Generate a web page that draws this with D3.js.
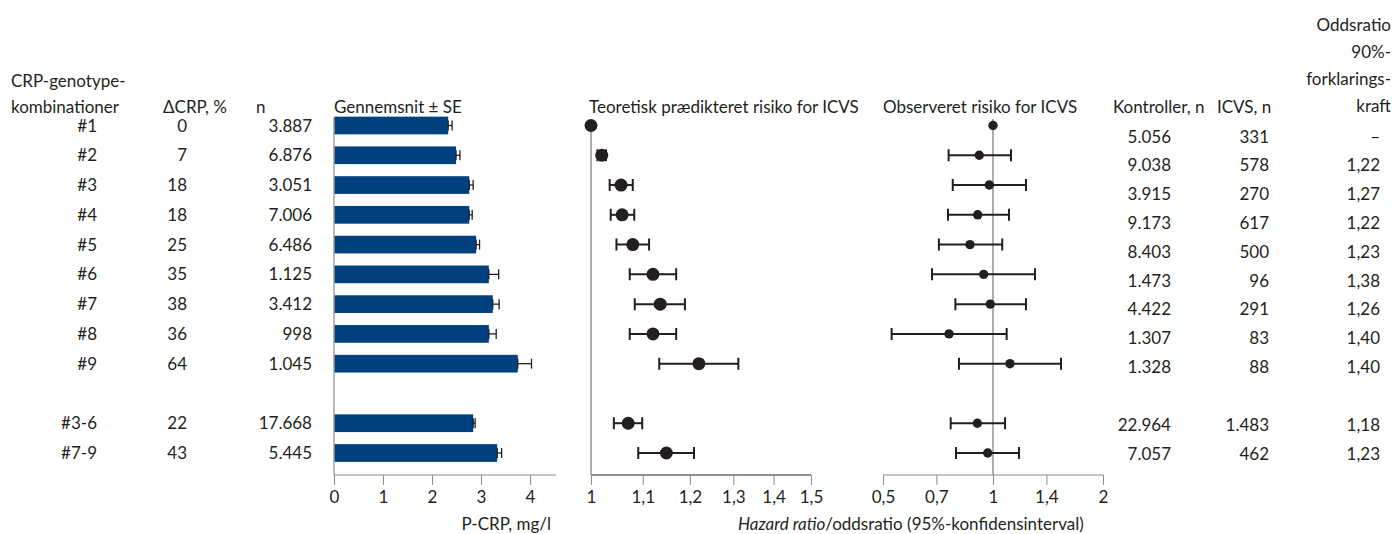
<!DOCTYPE html>
<html>
<head>
<meta charset="utf-8">
<script src="https://cdn.jsdelivr.net/npm/d3@7"></script>
<style>
  html, body { margin: 0; padding: 0; background: #fff; }
  svg text { font-family: Lato, "Liberation Sans", sans-serif; font-size: 17px; fill: #231f20; }
</style>
</head>
<body>
<svg id="chart" width="1394" height="534"></svg>
<script>
// ---------- DATA ----------
const categories = ["#1","#2","#3","#4","#5","#6","#7","#8","#9","#3-6","#7-9"];
const deltaCRP   = [0, 7, 18, 18, 25, 35, 38, 36, 64, 22, 43];
const nSubjects  = [3887, 6876, 3051, 7006, 6486, 1125, 3412, 998, 1045, 17668, 5445];
const crpMean    = [2.33, 2.49, 2.76, 2.76, 2.90, 3.16, 3.24, 3.16, 3.75, 2.84, 3.33];
const crpSE      = [0.08, 0.08, 0.08, 0.06, 0.07, 0.20, 0.13, 0.15, 0.28, 0.04, 0.09];
const predHR     = [1.000, 1.020, 1.057, 1.059, 1.080, 1.121, 1.136, 1.121, 1.220, 1.071, 1.149];
const predLo     = [null, 1.012, 1.035, 1.037, 1.048, 1.074, 1.084, 1.074, 1.134, 1.043, 1.091];
const predHi     = [null, 1.028, 1.080, 1.083, 1.113, 1.170, 1.189, 1.170, 1.312, 1.099, 1.209];
const obsOR      = [1.000, 0.917, 0.977, 0.908, 0.865, 0.943, 0.983, 0.758, 1.113, 0.906, 0.967];
const obsLo      = [null, 0.756, 0.776, 0.753, 0.711, 0.681, 0.789, 0.528, 0.807, 0.766, 0.792];
const obsHi      = [null, 1.120, 1.231, 1.106, 1.060, 1.303, 1.231, 1.090, 1.535, 1.079, 1.178];
const controls   = [5056, 9038, 3915, 9173, 8403, 1473, 4422, 1307, 1328, 22964, 7057];
const cases      = [331, 578, 270, 617, 500, 96, 291, 83, 88, 1483, 462];
const power90    = [null, 1.22, 1.27, 1.22, 1.23, 1.38, 1.26, 1.40, 1.40, 1.18, 1.23];

const crpTicks  = [0, 1, 2, 3, 4];
const predTicks = [1, 1.1, 1.2, 1.3, 1.4, 1.5];
const obsTicks  = [0.5, 0.7, 1, 1.4, 2];

// ---------- SETUP ----------
const da = d3.formatLocale({decimal: ",", thousands: ".", grouping: [3], currency: ["", " kr"]});
const fmtInt = da.format(",d");
const fmtDec = da.format(".2f");
const fmtTick = v => da.format("~g")(v);

const rows = categories.map((c, i) => ({
  cat: c, d: deltaCRP[i], n: nSubjects[i], mean: crpMean[i], se: crpSE[i],
  ph: predHR[i], pl: predLo[i], pu: predHi[i],
  oh: obsOR[i], ol: obsLo[i], ou: obsHi[i],
  ctrl: controls[i], cases: cases[i], pw: power90[i]
}));

const rowDomain = categories.slice(0, 9).concat(["gap"], categories.slice(9));
const yMark  = d3.scalePoint().domain(rowDomain).range([125.5, 453]);
const yRight = d3.scalePoint().domain(rowDomain).range([136.5, 453.5]);

const xBar  = d3.scaleLinear().domain([0, 4.53]).range([334, 556]);
const xPred = d3.scaleLog().domain([1, 1.5]).range([591, 811]);
const xObs  = d3.scaleLog().domain([0.5, 2]).range([883, 1103]);

const svg = d3.select("#chart");
const ink = "#231f20", grey = "#8c8c8c", blue = "#00407f";
const axisY = 475;

// ---------- HEADERS ----------
function hdr(x, y, t, anchor) {
  svg.append("text").attr("x", x).attr("y", y).attr("text-anchor", anchor || "start").text(t);
}
hdr(11, 87, "CRP-genotype-");
hdr(11, 113, "kombinationer");
hdr(163, 113, "\u0394CRP, %");
hdr(256, 113, "n");
hdr(334, 113, "Gennemsnit \u00b1 SE");
hdr(589, 113, "Teoretisk prædikteret risiko for ICVS");
hdr(883, 113, "Observeret risiko for ICVS");
hdr(1113, 113, "Kontroller, n");
hdr(1217, 113, "ICVS, n");
hdr(1391, 31, "Oddsratio", "end");
hdr(1391, 58, "90%-", "end");
hdr(1391, 85, "forklarings-", "end");
hdr(1391, 112, "kraft", "end");

// ---------- TABLE COLUMNS ----------
function col(x, acc, yScale) {
  svg.append("g").selectAll("text").data(rows).join("text")
    .attr("x", x).attr("y", d => yScale(d.cat) + 6)
    .attr("text-anchor", "end").text(acc);
}
col(97, d => d.cat, yMark);
col(187, d => d.d, yMark);
col(312, d => fmtInt(d.n), yMark);
col(1171, d => fmtInt(d.ctrl), yRight);
col(1269, d => fmtInt(d.cases), yRight);
col(1380, d => d.pw == null ? "\u2013" : fmtDec(d.pw), yRight);

// ---------- BAR PANEL ----------
const gBar = svg.append("g");
gBar.append("g").attr("transform", `translate(0,${axisY})`)
  .call(d3.axisBottom(xBar).tickValues(crpTicks).tickFormat(fmtTick).tickSize(10).tickPadding(6))
  .call(g => g.select(".domain").attr("stroke", grey).attr("d", `M${xBar.range()[0]},0H${xBar.range()[1]}`))
  .call(g => g.selectAll(".tick line").attr("stroke", grey))
  .call(g => g.selectAll(".tick text").attr("font-size", null).attr("font-family", null).attr("fill", ink));
gBar.append("line").attr("x1", xBar(0)).attr("x2", xBar(0)).attr("y1", 117).attr("y2", axisY).attr("stroke", grey).attr("stroke-width", 1.2);
const bh = 17.7;
gBar.selectAll("line.se").data(rows).join("line").attr("class", "se")
  .attr("x1", d => xBar(d.mean - d.se)).attr("x2", d => xBar(d.mean + d.se))
  .attr("y1", d => yMark(d.cat)).attr("y2", d => yMark(d.cat)).attr("stroke", ink).attr("stroke-width", 1.3);
gBar.selectAll("line.cap").data(rows).join("line").attr("class", "cap")
  .attr("x1", d => xBar(d.mean + d.se)).attr("x2", d => xBar(d.mean + d.se))
  .attr("y1", d => yMark(d.cat) - 5).attr("y2", d => yMark(d.cat) + 5).attr("stroke", ink).attr("stroke-width", 1.3);
gBar.selectAll("rect").data(rows).join("rect")
  .attr("x", xBar(0) + 0.6).attr("y", d => yMark(d.cat) - bh / 2)
  .attr("width", d => xBar(d.mean) - xBar(0) - 0.6).attr("height", bh).attr("fill", blue);
gBar.selectAll("line.cap0").data(rows).join("line").attr("class", "cap0")
  .attr("x1", d => xBar(d.mean)).attr("x2", d => xBar(d.mean))
  .attr("y1", d => yMark(d.cat) - 5).attr("y2", d => yMark(d.cat) + 5).attr("stroke", ink).attr("stroke-width", 1.3);
svg.append("text").attr("x", 551).attr("y", 530).attr("text-anchor", "end").text("P-CRP, mg/l");

// ---------- FOREST PANELS ----------
function forest(x, accV, accL, accU, ticks, r, lineColor, refY1) {
  const g = svg.append("g");
  g.append("g").attr("transform", `translate(0,${axisY})`)
    .call(d3.axisBottom(x).tickValues(ticks).tickFormat(fmtTick).tickSize(10).tickPadding(6))
    .call(g2 => g2.select(".domain").attr("stroke", lineColor).attr("stroke-width", 1.2).attr("d", `M${x.range()[0]},0H${x.range()[1]}`))
    .call(g2 => g2.selectAll(".tick line").attr("stroke", grey))
    .call(g2 => g2.selectAll(".tick text").attr("font-size", null).attr("font-family", null).attr("fill", ink));
  g.append("line").attr("x1", x(1)).attr("x2", x(1)).attr("y1", refY1).attr("y2", axisY).attr("stroke", grey).attr("stroke-width", 1.4);
  const ci = rows.filter(d => accL(d) != null);
  g.selectAll("line.ci").data(ci).join("line").attr("class", "ci")
    .attr("x1", d => x(accL(d))).attr("x2", d => x(accU(d)))
    .attr("y1", d => yMark(d.cat)).attr("y2", d => yMark(d.cat)).attr("stroke", ink).attr("stroke-width", 2);
  g.selectAll("path.cap").data(ci).join("path").attr("class", "cap")
    .attr("d", d => `M${x(accL(d))},${yMark(d.cat) - 6}v12M${x(accU(d))},${yMark(d.cat) - 6}v12`)
    .attr("stroke", ink).attr("stroke-width", 2).attr("fill", "none");
  g.selectAll("circle").data(rows).join("circle")
    .attr("cx", d => x(accV(d))).attr("cy", d => yMark(d.cat)).attr("r", r).attr("fill", ink);
}
forest(xPred, d => d.ph, d => d.pl, d => d.pu, predTicks, 6.5, ink, 125.5);
forest(xObs, d => d.oh, d => d.ol, d => d.ou, obsTicks, 4.7, grey, 119);

const lab = svg.append("text").attr("x", 738).attr("y", 530);
lab.append("tspan").attr("font-style", "italic").text("Hazard ratio");
lab.append("tspan").text("/oddsratio (95%-konfidensinterval)");
</script>
</body>
</html>
